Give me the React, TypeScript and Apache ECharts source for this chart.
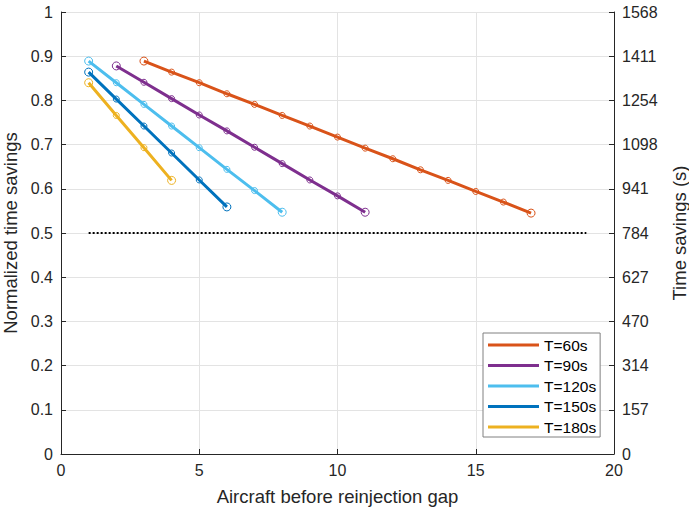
import React, { useEffect, useRef } from "react";
import * as echarts from "echarts";

const seriesNames = ["T=60s", "T=90s", "T=120s", "T=150s", "T=180s"];
const colors = ["#D95319", "#7E2F8E", "#4DBEEE", "#0072BD", "#EDB120"];

const x60 = [3, 4, 5, 6, 7, 8, 9, 10, 11, 12, 13, 14, 15, 16, 17];
const y60 = [0.889, 0.864, 0.84, 0.815, 0.791, 0.766, 0.742, 0.717, 0.692, 0.668, 0.643, 0.619, 0.594, 0.57, 0.545];
const x90 = [2, 3, 4, 5, 6, 7, 8, 9, 10, 11];
const y90 = [0.878, 0.841, 0.804, 0.767, 0.731, 0.694, 0.657, 0.62, 0.584, 0.547];
const x120 = [1, 2, 3, 4, 5, 6, 7, 8];
const y120 = [0.889, 0.84, 0.791, 0.742, 0.693, 0.644, 0.596, 0.547];
const x150 = [1, 2, 3, 4, 5, 6];
const y150 = [0.864, 0.803, 0.742, 0.681, 0.62, 0.559];
const x180 = [1, 2, 3, 4];
const y180 = [0.84, 0.766, 0.693, 0.619];

const thresholdX = [1, 19];
const thresholdY = [0.5, 0.5];

const rightTickLabels = ["0", "157", "314", "470", "627", "784", "941", "1098", "1254", "1411", "1568"];

const FONT = "Liberation Sans, Arial, sans-serif";
const AXIS_COLOR = "#262626";

export default function App() {
  const ref = useRef<HTMLDivElement>(null);
  useEffect(() => {
    if (!ref.current) return;
    const chart = echarts.init(ref.current, undefined, { renderer: "svg" });
    const xsAll = [x60, x90, x120, x150, x180];
    const ysAll = [y60, y90, y120, y150, y180];
    const lineSeries = seriesNames.map((name, i) => {
      const xs = xsAll[i];
      const ys = ysAll[i];
      return {
        name,
        type: "line",
        data: xs.map((x, j) => ({
          value: [x, ys[j]],
          symbolSize: j === 0 || j === xs.length - 1 ? 8 : 6,
        })),
        symbol: "circle",
        showSymbol: true,
        lineStyle: { color: colors[i], width: 3 },
        itemStyle: { color: "rgba(255,255,255,0)", borderColor: colors[i], borderWidth: 1 },
        color: colors[i],
        z: 3,
      };
    });
    const option = {
      animation: false,
      textStyle: { fontFamily: FONT },
      grid: { left: 61, right: 75, top: 12, bottom: 58, containLabel: false, outerBoundsMode: "none" },
      legend: {
        data: seriesNames.map((n, i) => ({
          name: n,
          itemStyle: { color: colors[i], borderWidth: 0, borderColor: colors[i] },
        })),
        orient: "vertical",
        left: 483,
        top: 333,
        icon: "rect",
        itemWidth: 51,
        itemHeight: 3,
        itemGap: 2.5,
        padding: [3, 4, 1, 5],
        borderColor: "#808080",
        borderWidth: 1,
        backgroundColor: "#ffffff",
        textStyle: { fontFamily: FONT, fontSize: 15.5, color: "#000", lineHeight: 18 },
      },
      xAxis: {
        type: "value",
        min: 0,
        max: 20,
        interval: 5,
        name: "Aircraft before reinjection gap",
        nameLocation: "middle",
        nameGap: 33,
        nameTextStyle: { fontFamily: FONT, fontSize: 18.5, color: AXIS_COLOR },
        axisLine: { show: true, onZero: false, lineStyle: { color: AXIS_COLOR, width: 1 } },
        axisTick: { show: true, inside: true, length: 5, lineStyle: { color: AXIS_COLOR } },
        axisLabel: { fontFamily: FONT, fontSize: 16, color: AXIS_COLOR, margin: 8 },
        splitLine: { show: true, lineStyle: { color: "#e3e3e3", width: 1 } },
      },
      yAxis: [
        {
          type: "value",
          min: 0,
          max: 1,
          interval: 0.1,
          position: "left",
          name: "Normalized time savings",
          nameLocation: "middle",
          nameGap: 36,
          nameTextStyle: { fontFamily: FONT, fontSize: 18.5, color: AXIS_COLOR },
          axisLine: { show: true, lineStyle: { color: AXIS_COLOR, width: 1 } },
          axisTick: { show: true, inside: true, length: 5, lineStyle: { color: AXIS_COLOR } },
          axisLabel: {
            fontFamily: FONT,
            fontSize: 16,
            color: AXIS_COLOR,
            margin: 8,
            formatter: (v: number) => String(Math.round(v * 10) / 10),
          },
          splitLine: { show: true, lineStyle: { color: "#e3e3e3", width: 1 } },
        },
        {
          type: "value",
          min: 0,
          max: 1568,
          interval: 156.8,
          position: "right",
          name: "Time savings (s)",
          nameLocation: "middle",
          nameGap: 56,
          nameTextStyle: { fontFamily: FONT, fontSize: 18.5, color: AXIS_COLOR },
          axisLine: { show: true, lineStyle: { color: AXIS_COLOR, width: 1 } },
          axisTick: { show: true, inside: true, length: 5, lineStyle: { color: AXIS_COLOR } },
          axisLabel: {
            fontFamily: FONT,
            fontSize: 16,
            color: AXIS_COLOR,
            margin: 8,
            formatter: (v: number) => rightTickLabels[Math.round(v / 156.8)] ?? "",
          },
          splitLine: { show: false },
        },
      ],
      series: [
        ...lineSeries,
        {
          name: "threshold",
          type: "line",
          data: thresholdX.map((x, j) => [x, thresholdY[j]]),
          showSymbol: false,
          symbol: "none",
          lineStyle: { color: "#000", width: 2, type: [2, 2] },
          z: 2,
          silent: true,
        },
      ],
    };
    chart.setOption(option as any);
    return () => chart.dispose();
  }, []);
  return <div ref={ref} style={{ width: 689, height: 512, position: "absolute", left: 0, top: 0, background: "#fff" }} />;
}
